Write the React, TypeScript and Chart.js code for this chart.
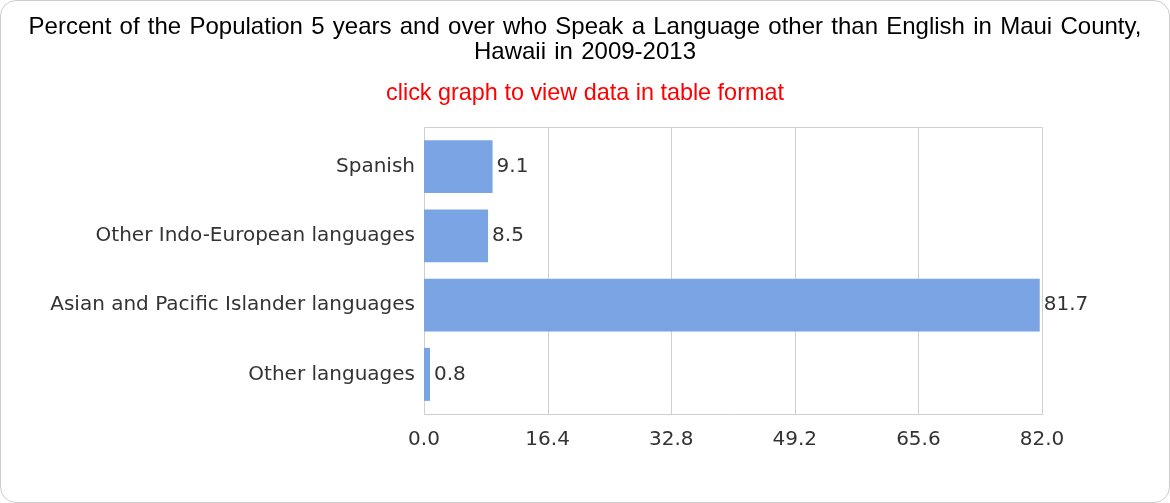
import React, { useEffect, useRef } from "react";
import { Chart, registerables } from "chart.js";

Chart.register(...registerables);

// Language groups spoken at home, Maui County, HI (2009-2013)
const categories = [
  "Spanish",
  "Other Indo-European languages",
  "Asian and Pacific Islander languages",
  "Other languages",
];
const percentValues = [9.1, 8.5, 81.7, 0.8];
const xTickValues = [0, 16.4, 32.8, 49.2, 65.6, 82.0];

const titleLines = [
  "Percent of the Population 5 years and over who Speak a Language other than English in Maui County,",
  "Hawaii in 2009-2013",
];
const subtitleText = "click graph to view data in table format";

const AXIS_FONT = { family: "'DejaVu Sans', sans-serif", size: 20 };
const TEXT_COLOR = "#333333";
const GRID_COLOR = "#cfcfcf";
const FRAME_INSET = 5; // frame sits a little outside the band of categories

// Writes each bar's value just past its end
const valueLabels = {
  id: "valueLabels",
  afterDatasetsDraw(chart: any) {
    const ctx = chart.ctx;
    const meta = chart.getDatasetMeta(0);
    ctx.save();
    ctx.font = `${AXIS_FONT.size}px ${AXIS_FONT.family}`;
    ctx.fillStyle = TEXT_COLOR;
    ctx.textAlign = "left";
    ctx.textBaseline = "middle";
    meta.data.forEach((bar: any, i: number) => {
      const v = chart.data.datasets[0].data[i] as number;
      ctx.fillText(v.toFixed(1), bar.x + 4, bar.y);
    });
    ctx.restore();
  },
};

// Plot frame and vertical grid lines at the x ticks
const plotFrame = {
  id: "plotFrame",
  beforeDatasetsDraw(chart: any) {
    const { ctx, chartArea } = chart;
    const xScale = chart.scales.x;
    const top = Math.round(chartArea.top - FRAME_INSET) + 0.5;
    const bottom = Math.round(chartArea.bottom + FRAME_INSET) + 0.5;
    ctx.save();
    ctx.strokeStyle = GRID_COLOR;
    ctx.lineWidth = 1;
    ctx.beginPath();
    xTickValues.forEach((v) => {
      const px = Math.round(xScale.getPixelForValue(v)) + 0.5;
      ctx.moveTo(px, top);
      ctx.lineTo(px, bottom);
    });
    const left = Math.round(xScale.getPixelForValue(xTickValues[0])) + 0.5;
    const right = Math.round(xScale.getPixelForValue(xTickValues[xTickValues.length - 1])) + 0.5;
    ctx.moveTo(left, top);
    ctx.lineTo(right, top);
    ctx.moveTo(left, bottom);
    ctx.lineTo(right, bottom);
    ctx.stroke();
    ctx.restore();
  },
};

const headingFont = "'Liberation Sans', Arial, sans-serif";

export default function App() {
  const canvasRef = useRef<HTMLCanvasElement | null>(null);

  useEffect(() => {
    if (!canvasRef.current) return;
    const chart = new Chart(canvasRef.current, {
      type: "bar",
      data: {
        labels: categories,
        datasets: [
          {
            data: percentValues,
            backgroundColor: "#7ba4e5",
            borderWidth: 0,
            barPercentage: 0.765,
            categoryPercentage: 1,
          },
        ],
      },
      options: {
        indexAxis: "y",
        animation: false,
        responsive: false,
        maintainAspectRatio: false,
        layout: { padding: { left: 0, right: 128, top: 132, bottom: 0 } },
        plugins: {
          legend: { display: false },
          tooltip: { enabled: false },
          title: { display: false },
        },
        scales: {
          x: {
            type: "linear",
            min: 0,
            max: 82,
            afterBuildTicks(scale: any) {
              scale.ticks = xTickValues.map((v) => ({ value: v }));
            },
            afterFit(scale: any) {
              scale.height = 94;
            },
            ticks: {
              color: TEXT_COLOR,
              font: AXIS_FONT,
              padding: 19,
              callback: (v: any) => Number(v).toFixed(1),
            },
            grid: { display: false, drawTicks: false },
            border: { display: false },
          },
          y: {
            afterFit(scale: any) {
              scale.width = 424;
            },
            ticks: { color: TEXT_COLOR, font: AXIS_FONT, padding: 9 },
            grid: { display: false, drawTicks: false },
            border: { display: false },
          },
        },
      },
      plugins: [valueLabels, plotFrame],
    });
    return () => chart.destroy();
  }, []);

  return (
    <div style={{ position: "absolute", left: 0, top: 0, width: 1170, height: 503, background: "#ffffff" }}>
      <canvas ref={canvasRef} width={1170} height={503} style={{ display: "block" }} />
      <div
        style={{
          position: "absolute",
          left: 0,
          top: 13,
          width: 1170,
          textAlign: "center",
          fontFamily: headingFont,
          fontSize: 24,
          lineHeight: "25px",
          wordSpacing: "1.6px",
          color: "#000000",
          whiteSpace: "nowrap",
        }}
      >
        {titleLines.map((line) => (
          <div key={line}>{line}</div>
        ))}
      </div>
      <div
        style={{
          position: "absolute",
          left: 0,
          top: 79,
          width: 1170,
          textAlign: "center",
          fontFamily: headingFont,
          fontSize: 23.4,
          lineHeight: "26px",
          color: "#ff0000",
          whiteSpace: "nowrap",
        }}
      >
        {subtitleText}
      </div>
      <div
        style={{
          position: "absolute",
          left: 0,
          top: 0,
          width: 1170,
          height: 503,
          boxSizing: "border-box",
          border: "1px solid #cccccc",
          borderRadius: 16,
          pointerEvents: "none",
        }}
      />
    </div>
  );
}
